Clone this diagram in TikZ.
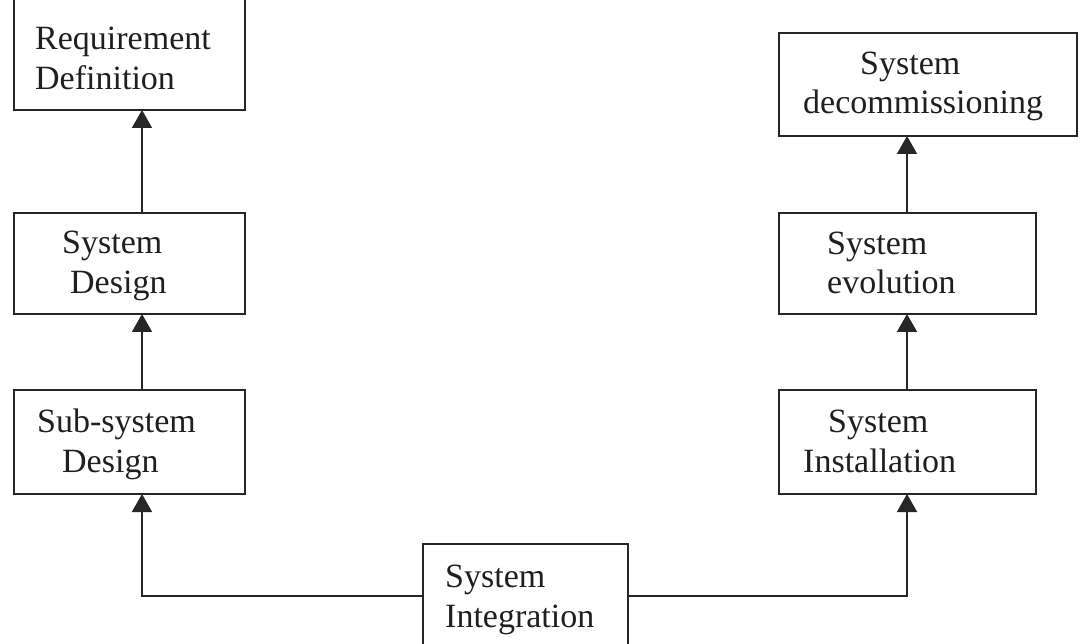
\documentclass[tikz,border=0pt]{standalone}
\usepackage{fontspec}
\setmainfont{Liberation Serif}
\usetikzlibrary{arrows.meta}
\begin{document}
\begin{tikzpicture}[x=1pt,y=-1pt,
  box/.style={draw=black!85, line width=1.6pt, rectangle, inner sep=0pt, outer sep=0pt},
  txt/.style={anchor=base west, inner sep=0pt, font=\fontsize{34}{40}\selectfont, text=black!88},
  link/.style={draw=black!85, line width=1.6pt, -{Triangle[width=20pt,length=18pt]}}]
\useasboundingbox (0,0) rectangle (1080,644);
\clip (0,0) rectangle (1080,644);
\fill[white] (0,0) rectangle (1080,644);

% stage boxes
\node[box, minimum width=231pt, minimum height=120pt] (rd)  at (129.5,50) {};
\node[box, minimum width=231pt, minimum height=101pt] (sd)  at (129.5,263.5) {};
\node[box, minimum width=231pt, minimum height=104pt] (ssd) at (129.5,442) {};
\node[box, minimum width=205pt, minimum height=104pt] (si)  at (525.5,596) {};
\node[box, minimum width=257pt, minimum height=104pt] (sin) at (907.5,442) {};
\node[box, minimum width=257pt, minimum height=101pt] (sev) at (907.5,263.5) {};
\node[box, minimum width=298pt, minimum height=103pt] (sdc) at (928,84.5) {};

% labels, one node per line
\node[txt] (rd1)  at (35,50)   {Requirement};
\node[txt] (rd2)  at (35,90)   {Definition};
\node[txt] (sd1)  at (62,254)  {System};
\node[txt] (sd2)  at (70,294)  {Design};
\node[txt] (ssd1) at (37,433)  {Sub-system};
\node[txt] (ssd2) at (62,473)  {Design};
\node[txt] (si1)  at (445,587) {System};
\node[txt] (si2)  at (445,627) {Integration};
\node[txt] (sin1) at (828,433) {System};
\node[txt] (sin2) at (803,473) {Installation};
\node[txt] (sev1) at (827,255) {System};
\node[txt] (sev2) at (827,294) {evolution};
\node[txt] (sdc1) at (860,75)  {System};
\node[txt] (sdc2) at (803,114) {decommissioning};

% connector columns
\coordinate (lx) at (142,0);
\coordinate (rx) at (907,0);

\draw[link] (sd.north -| lx) -- (rd.south -| lx);
\draw[link] (ssd.north -| lx) -- (sd.south -| lx);
\draw[link] (si.west) -| (ssd.south -| lx);
\draw[link] (si.east) -| (sin.south -| rx);
\draw[link] (sin.north -| rx) -- (sev.south -| rx);
\draw[link] (sev.north -| rx) -- (sdc.south -| rx);
\end{tikzpicture}
\end{document}
